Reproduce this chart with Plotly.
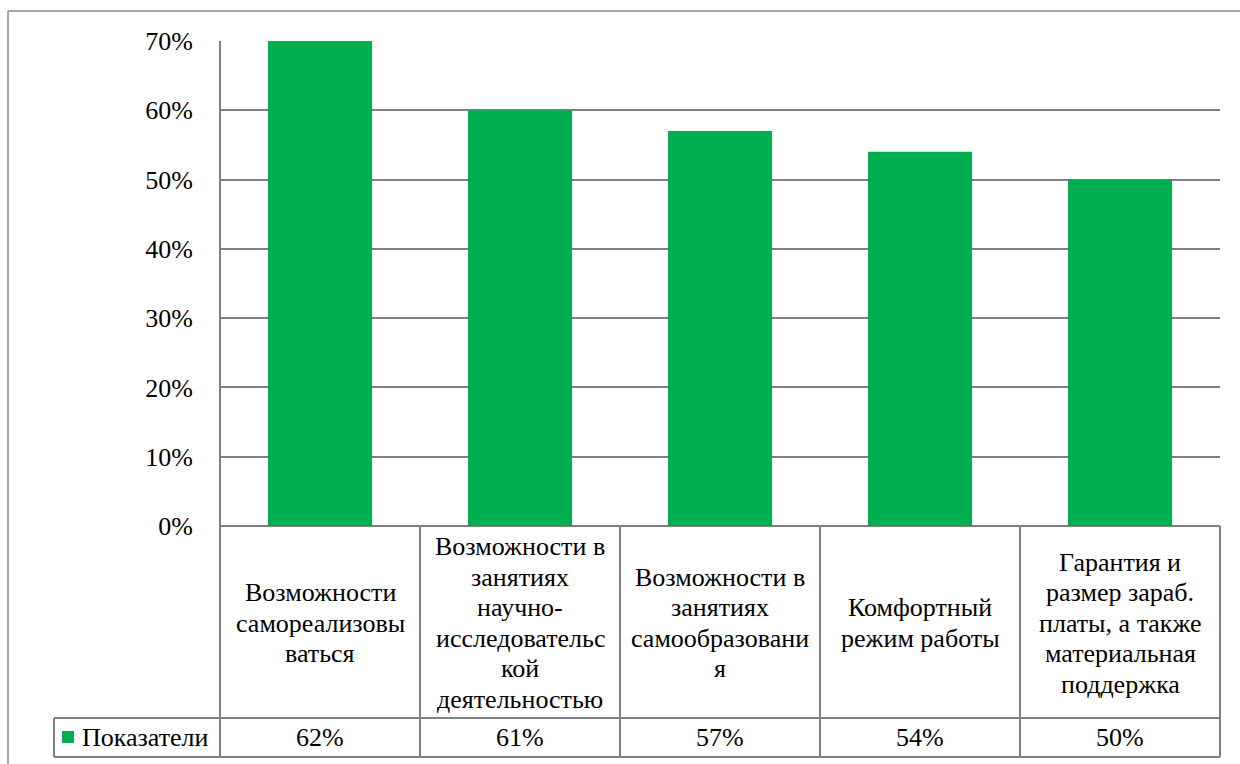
import plotly.graph_objects as go

# ---- data ----
categories = [
    "Возможности<br>самореализовы<br>ваться",
    "Возможности в<br>занятиях<br>научно-<br>исследовательс<br>кой<br>деятельностью",
    "Возможности в<br>занятиях<br>самообразовани<br>я",
    "Комфортный<br>режим работы",
    "Гарантия и<br>размер зараб.<br>платы, а также<br>материальная<br>поддержка",
]
bar_values = [70, 60, 57, 54, 50]
table_labels = ["62%", "61%", "57%", "54%", "50%"]
series_name = "Показатели"
y_ticks = [0, 10, 20, 30, 40, 50, 60, 70]

# ---- layout constants (pixels) ----
W, H = 1240, 764
L, R, T, B = 220, 1220, 41, 526
ROW1_BOTTOM = 718
ROW2_BOTTOM = 757
LEG_LEFT = 54
LINE_H = 30.5
GREEN = "#00B050"
GRID = "#808080"
FRAME = "#A6A6A6"
FONT = "Liberation Serif"
FS = 26
n = len(categories)


def py(p):
    return (B - p) / (B - T)


def px(p):
    return (p - L) / (R - L)


xs = list(range(n))
fig = go.Figure()
fig.add_trace(go.Bar(x=xs, y=bar_values, marker=dict(color=GREEN, line=dict(width=0)),
                     width=0.52, name=series_name, showlegend=False))

shapes = []
line = dict(color=GRID, width=2)
shapes.append(dict(type="line", xref="paper", yref="paper", x0=px(8), x1=px(W + 5), y0=py(11), y1=py(11),
                   line=dict(color=FRAME, width=2)))
shapes.append(dict(type="line", xref="paper", yref="paper", x0=px(8), x1=px(8), y0=py(11), y1=py(H + 5),
                   line=dict(color=FRAME, width=2)))
shapes.append(dict(type="line", xref="paper", yref="paper", x0=0, x1=0, y0=1, y1=py(ROW2_BOTTOM), line=line))
for i in range(1, n + 1):
    shapes.append(dict(type="line", xref="paper", yref="paper", x0=i / n, x1=i / n, y0=0,
                       y1=py(ROW2_BOTTOM), line=line))
for yy in (ROW1_BOTTOM, ROW2_BOTTOM):
    shapes.append(dict(type="line", xref="paper", yref="paper", x0=px(LEG_LEFT), x1=1, y0=py(yy),
                       y1=py(yy), line=line))
shapes.append(dict(type="line", xref="paper", yref="paper", x0=px(LEG_LEFT), x1=px(LEG_LEFT),
                   y0=py(ROW1_BOTTOM), y1=py(ROW2_BOTTOM), line=line))
shapes.append(dict(type="rect", xref="paper", yref="paper", x0=px(62), x1=px(74), y0=py(731), y1=py(743),
                   fillcolor=GREEN, line=dict(width=0)))

annotations = []
tf = dict(family=FONT, size=FS, color="black")
mid = (B + ROW1_BOTTOM) / 2 + 1
for i, c in enumerate(categories):
    lines = c.split("<br>")
    k = len(lines)
    for j, t in enumerate(lines):
        yc = mid + (j - (k - 1) / 2) * LINE_H
        annotations.append(dict(x=(i + 0.5) / n, y=py(yc), xref="paper", yref="paper",
                                text=t, showarrow=False, xanchor="center", yanchor="middle", font=tf))
    annotations.append(dict(x=(i + 0.5) / n, y=py((ROW1_BOTTOM + ROW2_BOTTOM) / 2), xref="paper", yref="paper",
                            text=table_labels[i], showarrow=False, xanchor="center", yanchor="middle", font=tf))
annotations.append(dict(x=px(80), y=py((ROW1_BOTTOM + ROW2_BOTTOM) / 2), xref="paper", yref="paper",
                        text=series_name, showarrow=False, xanchor="left", yanchor="middle", font=tf))

fig.update_layout(
    width=W, height=H,
    margin=dict(l=L, r=W - R, t=T, b=H - B, pad=0),
    paper_bgcolor="white", plot_bgcolor="white",
    font=tf,
    bargap=0.48,
    shapes=shapes,
    annotations=annotations,
    xaxis=dict(range=[-0.5, n - 0.5], showticklabels=False, showgrid=False, zeroline=False,
               showline=False, ticks=""),
    yaxis=dict(range=[0, 70], tickvals=y_ticks, ticktext=[f"{v}%" for v in y_ticks],
               showgrid=True, gridcolor=GRID, gridwidth=2, zeroline=True, zerolinecolor=GRID,
               zerolinewidth=2, showline=False, ticks="", ticklabelstandoff=26, tickfont=tf),
)

fig.write_html("out.html")
